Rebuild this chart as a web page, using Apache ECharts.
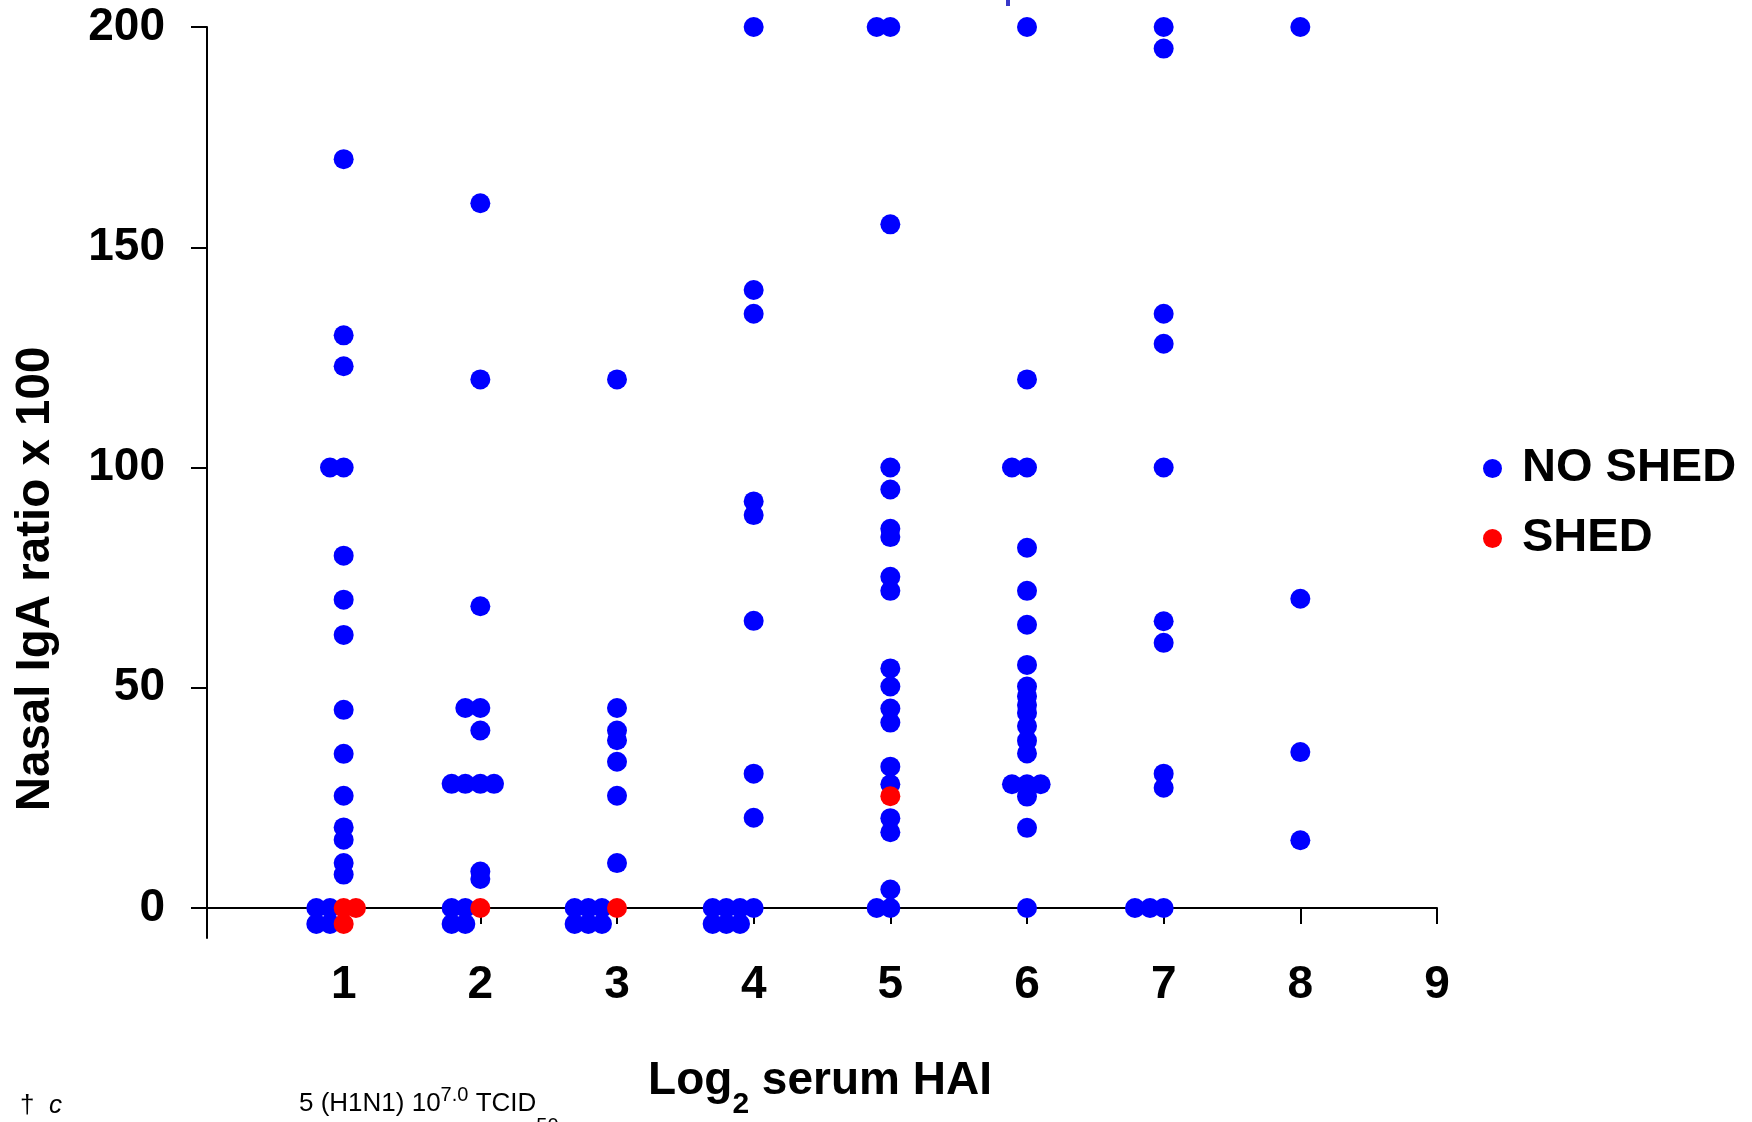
<!DOCTYPE html>
<html>
<head>
<meta charset="utf-8">
<script src="https://cdn.jsdelivr.net/npm/echarts@6/dist/echarts.min.js"></script>
<style>
  html, body { margin: 0; padding: 0; background: #fff; }
  #chart { width: 1752px; height: 1122px; }
</style>
</head>
<body>
<div id="chart"></div>
<script>
// dots: [log2 serum HAI (with side-by-side offset), nasal IgA ratio x 100]
var noShed = [
    // 1
    [1, 170], [1, 130], [1, 123], [0.9, 100], [1, 100], [1, 80], [1, 70], [1, 62], [1, 45],
    [1, 35], [1, 25.5], [1, 18.3], [1, 15.5], [1, 10.2], [1, 7.6],
    [0.8, 0], [0.9, 0], [0.8, -3.6], [0.9, -3.6],
    // 2
    [2, 160], [2, 120], [2, 68.5], [1.89, 45.4], [2, 45.4], [2, 40.3],
    [1.79, 28.2], [1.89, 28.2], [2, 28.2], [2.1, 28.2], [2, 8.3], [2, 6.6],
    [1.79, 0], [1.89, 0], [1.79, -3.6], [1.89, -3.6],
    // 3
    [3, 120], [3, 45.4], [3, 40.3], [3, 38.1], [3, 33.2], [3, 25.5], [3, 10.2],
    [2.69, 0], [2.79, 0], [2.89, 0], [2.69, -3.6], [2.79, -3.6], [2.89, -3.6],
    // 4
    [4, 200], [4, 140.3], [4, 134.9], [4, 92.3], [4, 89.2], [4, 65.2], [4, 30.5], [4, 20.5],
    [3.7, 0], [3.8, 0], [3.9, 0], [4, 0], [3.7, -3.6], [3.8, -3.6], [3.9, -3.6],
    // 5
    [4.9, 200], [5, 200], [5, 155.2], [5, 100], [5, 95], [5, 86.1], [5, 84.2], [5, 75.2],
    [5, 72], [5, 54.4], [5, 50.3], [5, 45.3], [5, 42.1], [5, 32.1], [5, 28.1], [5, 20.4],
    [5, 17.2], [5, 4.2], [4.9, 0], [5, 0],
    // 6
    [6, 200], [6, 120], [5.89, 100], [6, 100], [6, 81.8], [6, 72], [6, 64.3], [6, 55.2],
    [6, 50.3], [6, 48.1], [6, 46.1], [6, 44.3], [6, 41.3], [6, 38], [6, 35.1],
    [5.89, 28.1], [6, 28.1], [6.1, 28.1], [6, 25.3], [6, 18.2], [6, 0],
    // 7
    [7, 200], [7, 195.1], [7, 134.9], [7, 128.1], [7, 100], [7, 65.1], [7, 60.2],
    [7, 30.5], [7, 27.3], [6.79, 0], [6.9, 0], [7, 0],
    // 8
    [8, 200], [8, 70.2], [8, 35.4], [8, 15.4]
];
var shed = [
    [1, 0], [1.09, 0], [1, -3.6],
    [2, 0],
    [3, 0],
    [5, 25.4]
];
var xTicks = [1, 2, 3, 4, 5, 6, 7, 8, 9];
var yTicks = [0, 50, 100, 150, 200];
var seriesNames = ['NO SHED', 'SHED'];

var FONT = '"Liberation Sans", Arial, Helvetica, sans-serif';
var chart = echarts.init(document.getElementById('chart'));

// width of the footnote part before the subscript, so "50" can sit lower on its own
var ctx = document.createElement('canvas').getContext('2d');
ctx.font = '26px ' + FONT;
var footW = ctx.measureText('5 (H1N1) 10').width + ctx.measureText(' TCID').width;
ctx.font = '20px ' + FONT;
footW += ctx.measureText('7.0').width;

var option = {
    animation: false,
    backgroundColor: '#fff',
    textStyle: { fontFamily: FONT },
    grid: {
        left: 207,
        right: 315,
        top: 27,
        bottom: 184
    },
    legend: {
        orient: 'vertical',
        left: 1478,
        top: 440,
        itemGap: 23,
        icon: 'circle',
        itemWidth: 19,
        itemHeight: 19,
        data: seriesNames,
        textStyle: {
            fontFamily: FONT,
            fontSize: 47,
            fontWeight: 'bold',
            color: '#000',
            padding: [0, 0, 0, 15]
        }
    },
    xAxis: {
        type: 'value',
        min: 0,
        max: 9,
        interval: 1,
        splitLine: { show: false },
        axisLine: { onZero: true, lineStyle: { color: '#000', width: 2 } },
        axisTick: {
            show: true,
            customValues: xTicks,
            length: 16,
            lineStyle: { color: '#000', width: 2 }
        },
        axisLabel: {
            customValues: xTicks,
            margin: 24,
            fontFamily: FONT,
            fontSize: 46,
            fontWeight: 'bold',
            color: '#000'
        }
    },
    yAxis: {
        type: 'value',
        min: -6.8,
        max: 200,
        splitLine: { show: false },
        axisLine: { show: true, onZero: false, lineStyle: { color: '#000', width: 2 } },
        axisTick: {
            show: true,
            customValues: yTicks,
            length: 16,
            lineStyle: { color: '#000', width: 2 }
        },
        axisLabel: {
            customValues: yTicks,
            margin: 42,
            fontFamily: FONT,
            fontSize: 46,
            fontWeight: 'bold',
            color: '#000'
        }
    },
    graphic: [
        {
            type: 'text',
            x: 36,
            y: 579,
            rotation: Math.PI / 2,
            style: {
                text: 'Nasal IgA ratio x 100',
                font: 'bold 47.5px ' + FONT,
                fill: '#000',
                textAlign: 'center',
                textVerticalAlign: 'middle'
            }
        },
        {
            // x title: tall line so the bottom-aligned "2" drops below the baseline
            type: 'text',
            x: 820,
            y: 1081,
            style: {
                text: '{a|Log}{b|2}{a| serum HAI}',
                fill: '#000',
                textAlign: 'center',
                textVerticalAlign: 'middle',
                rich: {
                    a: { fontFamily: FONT, fontSize: 46, fontWeight: 'bold', lineHeight: 77, fill: '#000' },
                    b: { fontFamily: FONT, fontSize: 30, fontWeight: 'bold', lineHeight: 30, verticalAlign: 'bottom', fill: '#000' }
                }
            }
        },
        {
            type: 'text',
            x: 20,
            y: 1106,
            style: {
                text: '{n|†  }{i|c}',
                fill: '#000',
                textVerticalAlign: 'middle',
                rich: {
                    n: { fontFamily: FONT, fontSize: 26, fill: '#000' },
                    i: { fontFamily: FONT, fontSize: 26, fontStyle: 'italic', fill: '#000' }
                }
            }
        },
        {
            type: 'text',
            x: 299,
            y: 1085,
            style: {
                text: '{n|5 (H1N1) 10}{sup|7.0}{n| TCID}',
                fill: '#000',
                textVerticalAlign: 'top',
                rich: {
                    n: { fontFamily: FONT, fontSize: 26, lineHeight: 38, fill: '#000' },
                    sup: { fontFamily: FONT, fontSize: 20, lineHeight: 20, verticalAlign: 'top', fill: '#000' }
                }
            }
        },
        {
            type: 'text',
            x: 299 + footW,
            y: 1136,
            style: {
                text: '50',
                font: '20px ' + FONT,
                fill: '#000',
                textVerticalAlign: 'bottom'
            }
        },
        {
            type: 'rect',
            shape: { x: 1006, y: 0, width: 4, height: 6 },
            style: { fill: '#3838c8' }
        }
    ],
    series: [
        {
            name: seriesNames[0],
            type: 'scatter',
            symbol: 'circle',
            symbolSize: 20,
            clip: false,
            itemStyle: { color: '#0000ff', opacity: 1 },
            data: noShed
        },
        {
            name: seriesNames[1],
            type: 'scatter',
            symbol: 'circle',
            symbolSize: 20,
            clip: false,
            itemStyle: { color: '#ff0000', opacity: 1 },
            data: shed
        }
    ]
};
chart.setOption(option);
</script>
</body>
</html>
